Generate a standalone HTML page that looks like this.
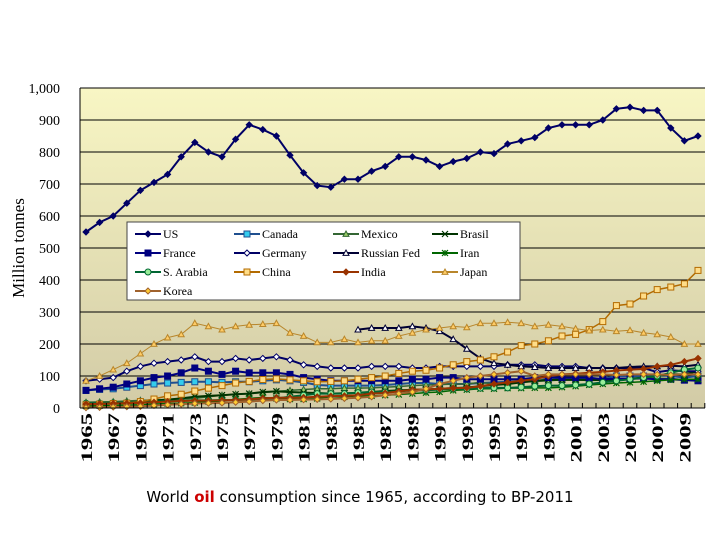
<!DOCTYPE html>
<html><head><meta charset="utf-8">
<style>
body{margin:0;background:#fff;width:720px;height:540px;overflow:hidden;font-family:"Liberation Serif",serif}
svg{position:absolute;left:0;top:0}
#cap{position:absolute;left:0;top:488px;width:720px;text-align:center;font-family:"DejaVu Sans","Liberation Sans",sans-serif;font-size:15px;color:#000}
#cap b{color:#cc0000}
</style></head><body>
<svg id="chart" width="720" height="540">
<defs><linearGradient id="bg" x1="0" y1="0" x2="0" y2="1"><stop offset="0" stop-color="#f8f6c4"/><stop offset="1" stop-color="#d2cba6"/></linearGradient></defs>
<rect x="80" y="88" width="625" height="320" fill="url(#bg)"/>
<g id="grid"></g><g id="series"></g><g id="axes"></g><g id="legend"></g>
</svg>
<div id="cap">World <b>oil</b> consumption since 1965, according to BP-2011</div>
<script>
const years=[];for(let y=1965;y<=2010;y++)years.push(y);
const yTicks=[0,100,200,300,400,500,600,700,800,900,1000];
const yTickLabels=["0","100","200","300","400","500","600","700","800","900","1,000"];
const us=[550,580,600,640,680,705,730,785,830,800,785,840,885,870,850,790,735,695,690,715,715,740,755,785,785,775,755,770,780,800,795,825,835,845,875,885,885,885,900,935,940,930,930,875,835,850];
const canada=[55,58,60,65,70,75,78,80,82,82,80,82,82,85,88,85,80,72,70,70,70,70,72,75,78,78,75,75,75,78,80,82,85,85,88,90,90,90,92,100,100,100,102,100,95,100];
const mexico=[18,19,20,22,24,25,27,28,30,35,40,43,45,48,52,55,58,60,60,62,62,63,65,67,70,72,73,75,75,80,75,78,80,83,85,88,88,86,87,88,90,92,93,92,88,88];
const brasil=[10,12,14,16,20,23,26,30,35,38,40,43,45,50,52,50,48,47,45,46,47,50,53,55,57,58,60,62,64,68,72,75,80,85,88,88,88,88,87,90,92,95,100,105,105,115];
const france=[55,60,65,75,85,95,100,110,125,115,105,115,110,110,110,105,95,90,85,85,85,85,85,85,90,90,95,95,90,90,90,90,90,95,95,95,95,95,90,92,92,92,90,90,87,85];
const germany=[85,90,95,115,130,140,145,150,160,145,145,155,150,155,160,150,135,130,125,125,125,130,130,130,125,125,130,130,130,130,130,135,135,135,130,130,130,125,125,125,125,125,112,118,115,115];
const russia=[null,null,null,null,null,null,null,null,null,null,null,null,null,null,null,null,null,null,null,null,245,250,250,250,255,250,240,215,185,155,140,135,130,128,125,125,125,125,125,125,128,130,130,132,130,135];
const iran=[6,7,8,9,10,12,14,15,17,20,22,27,30,33,30,28,28,30,35,35,38,38,40,42,45,48,50,55,57,60,60,62,62,63,63,65,68,72,75,78,80,82,85,88,90,90];
const arabia=[15,15,16,17,18,20,22,22,24,24,25,25,26,28,30,35,40,45,45,45,48,50,50,52,55,55,58,60,60,62,63,63,65,68,70,70,72,75,80,85,90,95,100,110,120,125];
const china=[10,12,14,15,20,28,38,43,53,62,70,78,83,89,91,88,85,82,83,85,90,95,100,108,115,118,125,135,145,150,160,175,195,200,210,225,230,245,270,320,325,350,370,378,388,430];
const india=[12,13,14,15,16,18,20,22,23,23,24,25,27,30,32,32,33,35,37,38,40,45,47,52,57,58,60,62,63,68,75,80,85,90,100,105,107,110,113,117,120,122,130,135,145,155];
const japan=[85,100,120,140,170,200,220,230,265,255,245,255,260,262,265,235,225,205,205,215,205,210,210,225,235,245,250,255,252,265,265,268,265,255,260,255,248,242,245,240,243,235,230,222,200,200];
const korea=[1,2,3,4,5,8,10,12,14,15,16,18,20,23,25,25,26,27,28,30,32,35,40,45,50,60,75,85,95,100,105,110,115,100,105,105,105,105,105,103,105,105,105,103,105,105];

const NS="http://www.w3.org/2000/svg";
const X=y=>86+(y-1965)*13.6;
const Y=v=>408-v*0.32;
function mk(t,a,p){const e=document.createElementNS(NS,t);for(const k in a)e.setAttribute(k,a[k]);p.appendChild(e);return e;}
const grid=document.getElementById('grid'),axes=document.getElementById('axes'),ser=document.getElementById('series'),leg=document.getElementById('legend');
yTicks.forEach((v,i)=>{
 if(v>0){const l=mk('line',{x1:80,x2:705,y1:Y(v),y2:Y(v),stroke:'#000','stroke-width':1},grid);
 
 }
 const t=mk('text',{x:60,y:Y(v)+5,'text-anchor':'end','font-size':14,'font-family':'Liberation Serif,serif'},axes);t.textContent=yTickLabels[i];
 
 
});
mk('line',{x1:80,x2:705,y1:408,y2:408,stroke:'#000'},axes);
mk('line',{x1:80,x2:80,y1:88,y2:408,stroke:'#000'},axes);
years.forEach(y=>{
 mk('line',{x1:X(y)+6.8,x2:X(y)+6.8,y1:408,y2:403,stroke:'#000'},axes);
 if(y%2===1){const t=mk('text',{transform:`translate(${X(y)+6},413) rotate(-90) scale(1.55,1)`,'text-anchor':'end','font-size':16,'font-weight':'bold','font-family':'Liberation Serif,serif'},axes);t.textContent=y;
 
 }
});
const yt=mk('text',{transform:'translate(24,248) rotate(-90)','text-anchor':'middle','font-size':17,'font-family':'Liberation Serif,serif'},axes);yt.textContent='Million tonnes';



function marker(g,type,x,y,fill,stroke){
 const s=3;
 if(type==='diamond')mk('polygon',{points:`${x},${y-s} ${x+s},${y} ${x},${y+s} ${x-s},${y}`,fill,stroke,'stroke-width':1},g);
 else if(type==='square')mk('rect',{x:x-s,y:y-s,width:2*s,height:2*s,fill,stroke,'stroke-width':1},g);
 else if(type==='triangle')mk('polygon',{points:`${x},${y-s} ${x+s},${y+s*0.8} ${x-s},${y+s*0.8}`,fill,stroke,'stroke-width':1},g);
 else if(type==='circle')mk('circle',{cx:x,cy:y,r:s,fill,stroke,'stroke-width':1},g);
 else if(type==='x'){mk('path',{d:`M${x-s},${y-s}L${x+s},${y+s}M${x-s},${y+s}L${x+s},${y-s}`,stroke,'stroke-width':1.2},g);}
 else if(type==='star'){mk('path',{d:`M${x-s},${y-s}L${x+s},${y+s}M${x-s},${y+s}L${x+s},${y-s}M${x},${y-s}L${x},${y+s}`,stroke,'stroke-width':1.2},g);}
}
const series=[
 ['US',us,'#000066',2,'diamond','#000066'],
 ['Canada',canada,'#1f4f8f',2,'square','#33ccee'],
 ['Mexico',mexico,'#336633',1.5,'triangle','#99cc66'],
 ['Brasil',brasil,'#003300',2,'x','#003300'],
 ['France',france,'#000080',2,'square','#000080'],
 ['Germany',germany,'#000066',2,'diamond','#ffffff'],
 ['Russian Fed',russia,'#000033',2,'triangle','#ffffff'],
 ['Iran',iran,'#006600',1.5,'star','#006600'],
 ['S. Arabia',arabia,'#006633',2,'circle','#99ee99'],
 ['China',china,'#b36b00',1.5,'square','#ffdd88'],
 ['India',india,'#993300',2,'diamond','#993300'],
 ['Japan',japan,'#b8862b',1,'triangle','#ffcc66'],
 ['Korea',korea,'#a0622d',2,'diamond','#ffcc33']
];
series.forEach(([name,data,col,w,mt,fill])=>{
 const g=mk('g',{},ser);
 
 
 let d='';data.forEach((v,i)=>{if(v==null)return;d+=(d?'L':'M')+X(years[i])+','+Y(v);});
 mk('path',{d,fill:'none',stroke:col,'stroke-width':w},g);
 data.forEach((v,i)=>{if(v!=null)marker(g,mt,X(years[i]),Y(v),fill,col);});
});
const lb=mk('rect',{x:127,y:222,width:393,height:78,fill:'#fff',stroke:'#444','stroke-width':1},leg);


series.forEach(([name,data,col,w,mt,fill],i)=>{
 const r=Math.floor(i/4),c=i%4;
 const x0=135+c*99,y0=234+r*19;
 const g=mk('g',{},leg);
 
 
 mk('line',{x1:x0,x2:x0+26,y1:y0,y2:y0,stroke:col,'stroke-width':2},g);
 marker(g,mt,x0+13,y0,fill,col);
 const t=mk('text',{x:x0+28,y:y0+4,'font-size':12,'font-family':'Liberation Serif,serif'},g);t.textContent=name;
});
</script>
</body></html>
